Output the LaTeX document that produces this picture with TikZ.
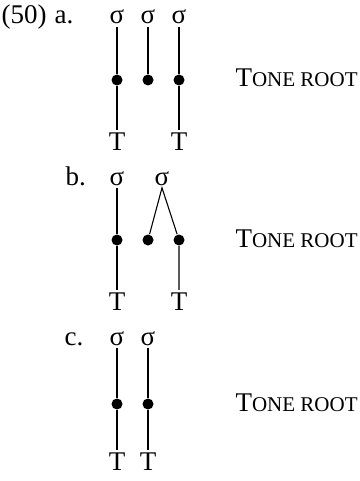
\documentclass[tikz,border=0pt]{standalone}
\usepackage{fontspec}
\setmainfont{Liberation Serif}
\usetikzlibrary{positioning}
\tikzset{
	syl/.style={inner sep=1pt, anchor=base},
	tone/.style={inner sep=1pt, anchor=base},
	root/.style={circle, fill, inner sep=0pt, minimum size=5.5pt},
	lbl/.style={inner sep=0pt, anchor=base west}
}
\newcommand{\toneroot}{T{\fontsize{10.5}{12}\selectfont ONE ROOT}}

\begin{document}
\begin{tikzpicture}[x=0.5pt, y=-0.5pt, line width=0.55pt, font=\fontsize{13.5}{16}\selectfont]
			\useasboundingbox (0,0) rectangle (359,481);
			% (a)
			\node[lbl] (num) at (1,24) {(50)};
			\node[lbl] (la) at (54,24) {a.};
			\foreach \i/\x in {1/117, 2/148, 3/179} {
				\node[syl] (sa\i) at (\x,24) {σ};
				\node[root] (da\i) at (\x,80) {};
				\draw (sa\i) -- (da\i);
			}
			\node[tone] (ta1) at (117,150) {T};
			\node[tone] (ta3) at (179,150) {T};
			\draw (da1) -- (ta1);
			\draw (da3) -- (ta3);
			\node[lbl] (ra) at (235,87) {\toneroot};
			% (b)
			\node[lbl] (lb) at (65,185) {b.};
			\node[syl] (sb1) at (117,185) {σ};
			\node[syl] (sb2) at (162,185) {σ};
			\foreach \i/\x in {1/117, 2/148, 3/179}
				\node[root] (db\i) at (\x,240) {};
			\node[tone] (tb1) at (117,310) {T};
			\node[tone] (tb3) at (179,310) {T};
			\draw (sb1) -- (db1) -- (tb1);
			\draw (db2) -- (sb2.south) -- (db3) -- (tb3);
			\node[lbl] (rb) at (235,247) {\toneroot};
			% (c)
			\node[lbl] (lc) at (64,345) {c.};
			\foreach \i/\x in {1/117, 2/148} {
				\node[syl] (sc\i) at (\x,345) {σ};
				\node[root] (dc\i) at (\x,404) {};
				\node[tone] (tc\i) at (\x,470) {T};
				\draw (sc\i) -- (dc\i) -- (tc\i);
			}
			\node[lbl] (rc) at (235,411) {\toneroot};
		\end{tikzpicture}
\end{document}
